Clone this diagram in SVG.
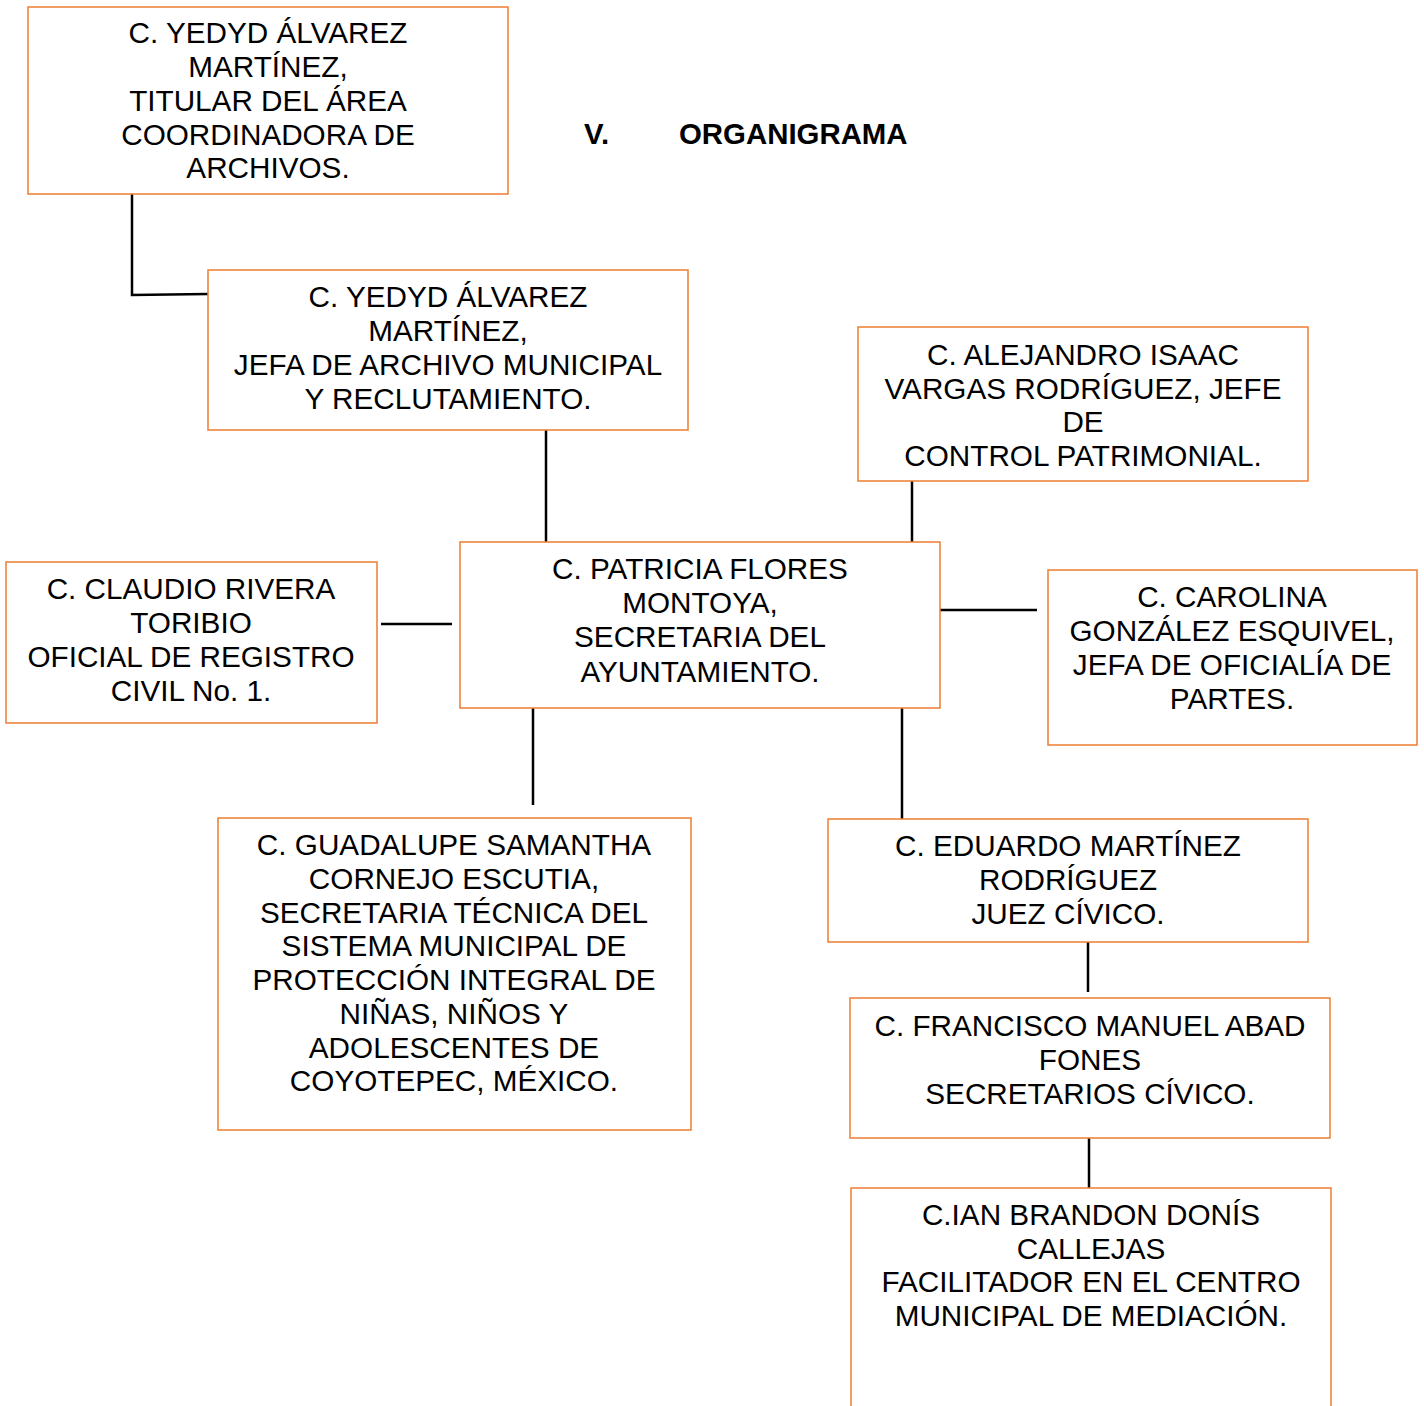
<svg xmlns="http://www.w3.org/2000/svg" width="1424" height="1406" viewBox="0 0 1424 1406">
<style>
.box{fill:#ffffff;stroke:#ED7D31;stroke-width:1.5}
.t{font-family:"Liberation Sans",Arial,sans-serif;font-size:29.7px;fill:#000;text-anchor:middle}
.title{font-family:"Liberation Sans",Arial,sans-serif;font-size:29.4px;font-weight:bold;fill:#000}
.c{stroke:#000;stroke-width:2.5;fill:none}
</style>
<rect width="1424" height="1406" fill="#ffffff"/>
<g id="title">
<text class="title" x="584" y="144">V.</text>
<text class="title" x="679" y="144">ORGANIGRAMA</text>
</g>
<g id="connectors">
<polyline class="c" points="132,194 132,295 208,294"/>
<line class="c" x1="546" y1="430" x2="546" y2="542"/>
<line class="c" x1="912" y1="481" x2="912" y2="542"/>
<line class="c" x1="381" y1="624" x2="452" y2="624"/>
<line class="c" x1="940" y1="610" x2="1037" y2="610"/>
<line class="c" x1="533" y1="708" x2="533" y2="805"/>
<line class="c" x1="902" y1="708" x2="902" y2="825"/>
<line class="c" x1="1088" y1="942" x2="1088" y2="992"/>
<line class="c" x1="1089" y1="1138" x2="1089" y2="1188"/>
</g>
<g id="node-titular">
<rect class="box" x="28" y="7" width="480" height="187"/>
<text class="t" x="268" y="43">C. YEDYD ÁLVAREZ</text>
<text class="t" x="268" y="77">MARTÍNEZ,</text>
<text class="t" x="268" y="111">TITULAR DEL ÁREA</text>
<text class="t" x="268" y="145">COORDINADORA DE</text>
<text class="t" x="268" y="178">ARCHIVOS.</text>
</g>
<g id="node-jefa-archivo">
<rect class="box" x="208" y="270" width="480" height="160"/>
<text class="t" x="448" y="307">C. YEDYD ÁLVAREZ</text>
<text class="t" x="448" y="341">MARTÍNEZ,</text>
<text class="t" x="448" y="375">JEFA DE ARCHIVO MUNICIPAL</text>
<text class="t" x="448" y="409">Y RECLUTAMIENTO.</text>
</g>
<g id="node-control-patrimonial">
<rect class="box" x="858" y="327" width="450" height="154"/>
<text class="t" x="1083" y="365">C. ALEJANDRO ISAAC</text>
<text class="t" x="1083" y="399">VARGAS RODRÍGUEZ, JEFE</text>
<text class="t" x="1083" y="432">DE</text>
<text class="t" x="1083" y="466">CONTROL PATRIMONIAL.</text>
</g>
<g id="node-secretaria">
<rect class="box" x="460" y="542" width="480" height="166"/>
<text class="t" x="700" y="579">C. PATRICIA FLORES</text>
<text class="t" x="700" y="613">MONTOYA,</text>
<text class="t" x="700" y="647">SECRETARIA DEL</text>
<text class="t" x="700" y="682">AYUNTAMIENTO.</text>
</g>
<g id="node-registro-civil">
<rect class="box" x="6" y="562" width="371" height="161"/>
<text class="t" x="191" y="599">C. CLAUDIO RIVERA</text>
<text class="t" x="191" y="633">TORIBIO</text>
<text class="t" x="191" y="667">OFICIAL DE REGISTRO</text>
<text class="t" x="191" y="701">CIVIL No. 1.</text>
</g>
<g id="node-oficialia-partes">
<rect class="box" x="1048" y="570" width="369" height="175"/>
<text class="t" x="1232" y="607">C. CAROLINA</text>
<text class="t" x="1232" y="641">GONZÁLEZ ESQUIVEL,</text>
<text class="t" x="1232" y="675">JEFA DE OFICIALÍA DE</text>
<text class="t" x="1232" y="709">PARTES.</text>
</g>
<g id="node-sipinna">
<rect class="box" x="218" y="818" width="473" height="312"/>
<text class="t" x="454" y="855">C. GUADALUPE SAMANTHA</text>
<text class="t" x="454" y="889">CORNEJO ESCUTIA,</text>
<text class="t" x="454" y="923">SECRETARIA TÉCNICA DEL</text>
<text class="t" x="454" y="956">SISTEMA MUNICIPAL DE</text>
<text class="t" x="454" y="990">PROTECCIÓN INTEGRAL DE</text>
<text class="t" x="454" y="1024">NIÑAS, NIÑOS Y</text>
<text class="t" x="454" y="1058">ADOLESCENTES DE</text>
<text class="t" x="454" y="1091">COYOTEPEC, MÉXICO.</text>
</g>
<g id="node-juez-civico">
<rect class="box" x="828" y="819" width="480" height="123"/>
<text class="t" x="1068" y="856">C. EDUARDO MARTÍNEZ</text>
<text class="t" x="1068" y="890">RODRÍGUEZ</text>
<text class="t" x="1068" y="924">JUEZ CÍVICO.</text>
</g>
<g id="node-secretario-civico">
<rect class="box" x="850" y="998" width="480" height="140"/>
<text class="t" x="1090" y="1036">C. FRANCISCO MANUEL ABAD</text>
<text class="t" x="1090" y="1070">FONES</text>
<text class="t" x="1090" y="1104">SECRETARIOS CÍVICO.</text>
</g>
<g id="node-mediacion">
<rect class="box" x="851" y="1188" width="480" height="240"/>
<text class="t" x="1091" y="1225">C.IAN BRANDON DONÍS</text>
<text class="t" x="1091" y="1259">CALLEJAS</text>
<text class="t" x="1091" y="1292">FACILITADOR EN EL CENTRO</text>
<text class="t" x="1091" y="1326">MUNICIPAL DE MEDIACIÓN.</text>
</g>
</svg>
